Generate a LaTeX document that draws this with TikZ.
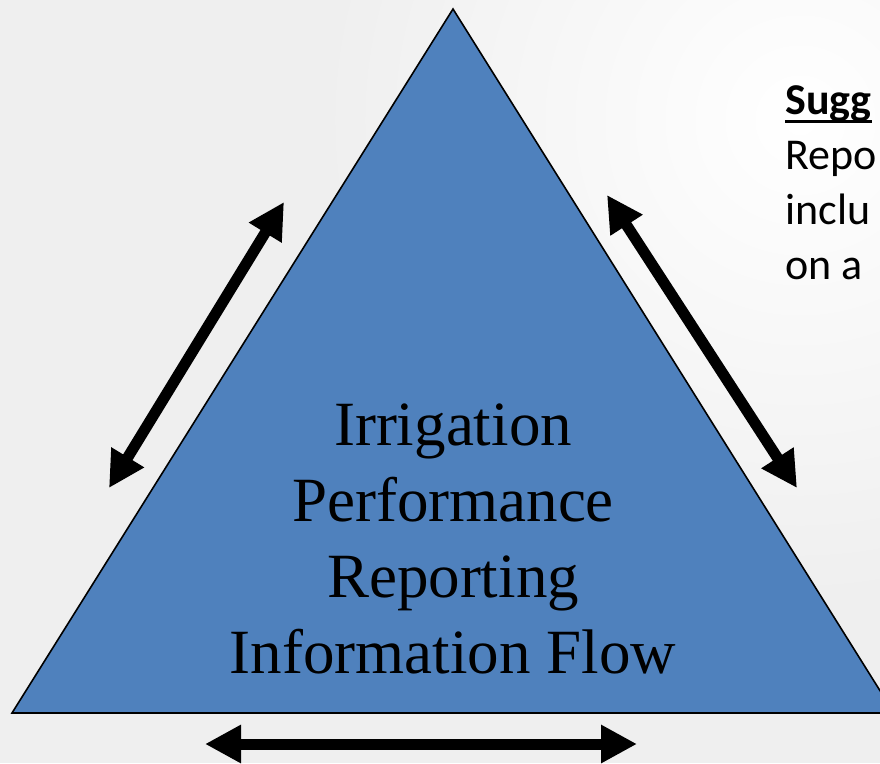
\documentclass[tikz,border=0pt]{standalone}
\usepackage{fontspec}
\setmainfont{Liberation Serif}
\newfontfamily\notefont{Carlito}
\usetikzlibrary{arrows.meta}
\definecolor{flowblue}{HTML}{4F81BD}
\definecolor{slidegray}{HTML}{EFEFEF}
\newcommand{\headuline}[1]{%thick underline for the note heading
  \setbox0\hbox{#1}\rlap{\rule[-9pt]{\wd0}{3.5pt}}\box0}
\tikzset{
  flowarrow/.style={line width=11pt,
    {Triangle[length=36pt,width=36pt]}-{Triangle[length=36pt,width=36pt]}},
  flowtext/.style={font=\fontsize{63}{76}\selectfont, align=center, inner sep=0pt},
  notetext/.style={font=\notefont\fontsize{44}{55}\selectfont, align=left, inner sep=0pt}
}

\begin{document}
\begin{tikzpicture}[x=1pt,y=-1pt]
    %slide background
    \useasboundingbox (0,0) rectangle (880,763);
    \clip (0,0) rectangle (880,763);
    \fill[slidegray] (0,0) rectangle (880,763);
    \shade[inner color=white, outer color=slidegray] (800,120) circle (480);
    %the triangle
    \coordinate (apex) at (453,9);
    \coordinate (left) at (12,713);
    \coordinate (right) at (894,713);
    \draw[fill=flowblue, line width=1.6pt, line join=miter] (apex) -- (left) -- (right) -- cycle;
    \node[flowtext, anchor=north] (flow) at (453,404)
      {Irrigation\\Performance\\Reporting\\Information Flow};
    %arrows along the sides
    \coordinate (lefttop) at (284,202);
    \coordinate (leftbot) at (109,488);
    \coordinate (righttop) at (607,195);
    \coordinate (rightbot) at (797,488);
    \coordinate (botleft) at (205,744);
    \coordinate (botright) at (637,744);
    \draw[flowarrow] (leftbot) -- (lefttop);
    \draw[flowarrow] (righttop) -- (rightbot);
    \draw[flowarrow] (botleft) -- (botright);
    %note on the right, cut off by the slide edge (base = last line)
    \node[notetext, anchor=base west] (note) at (785,279)
      {\headuline{\textbf{Sugg}}\\Repo\\inclu\\on a};
\end{tikzpicture}
\end{document}
